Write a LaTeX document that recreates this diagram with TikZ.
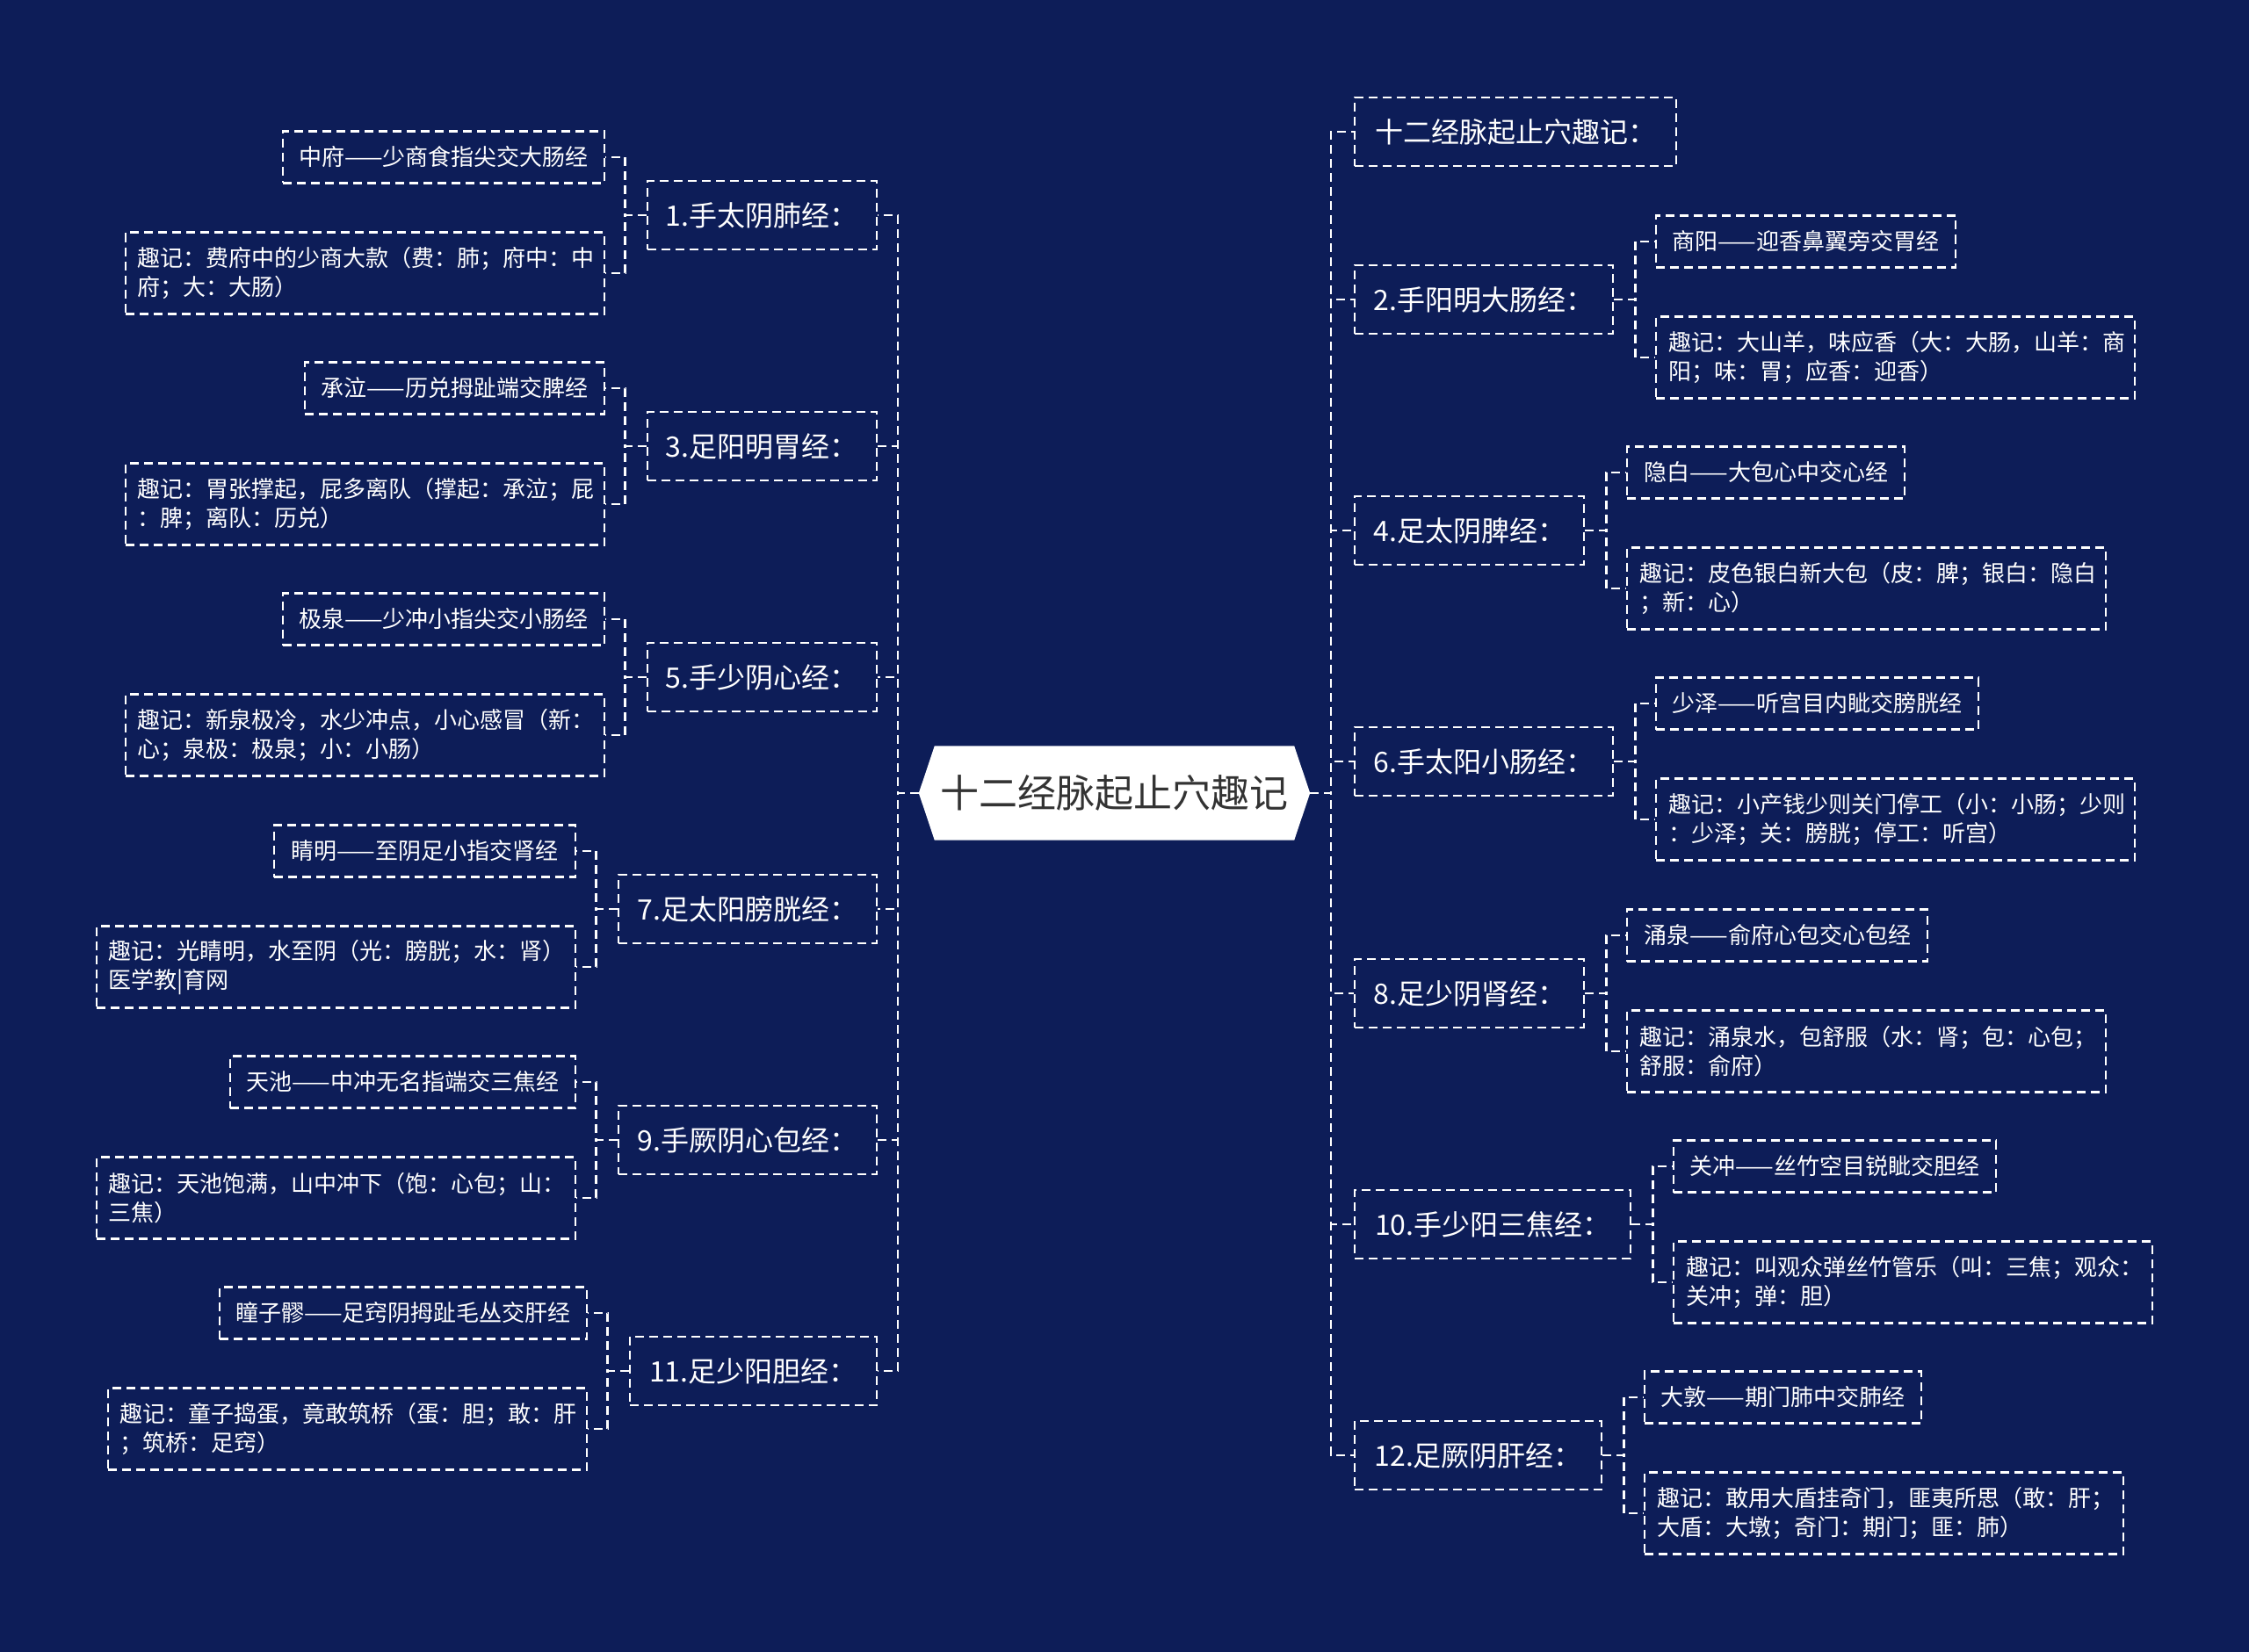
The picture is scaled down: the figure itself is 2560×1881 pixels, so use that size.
\documentclass[tikz,border=0pt]{standalone}
\usepackage{fontspec}
\setmainfont{Noto Sans CJK SC}
\usetikzlibrary{backgrounds}
\definecolor{bg}{RGB}{13,29,88}
\definecolor{ctxt}{RGB}{51,51,51}
\tikzset{
  dsh/.style={draw=white, line width=2.4pt, dash pattern=on 10pt off 6pt},
  conn/.style={dsh},
  br/.style={dsh, text=white, font=\fontsize{32}{38}\selectfont, minimum height=78pt, inner sep=0pt},
  lf/.style={dsh, text=white, font=\fontsize{26}{33}\selectfont, minimum height=59pt, inner sep=0pt},
  lf2/.style={lf, text width=517pt, align=left, inner xsep=14pt, minimum height=93pt},
  ctr/.style={text=ctxt, font=\fontsize{44}{50}\selectfont, minimum width=445pt, minimum height=107pt, inner sep=0pt}
}
\begin{document}
\begin{tikzpicture}[x=1pt,y=-1pt]
\useasboundingbox (0,0) rectangle (2560,1881);

% center
\node[ctr] (c) at (1268.5,903) {十二经脉起止穴趣记};
\begin{scope}[on background layer]
\fill[bg] (0,0) rectangle (2560,1881);
\fill[white] (c.west) -- ([xshift=18pt]c.north west) -- ([xshift=-18pt]c.north east) -- (c.east) -- ([xshift=-18pt]c.south east) -- ([xshift=18pt]c.south west) -- cycle;
\end{scope}
\coordinate (lt) at (1022,903);
\coordinate (rt) at (1515,903);

% left branches
\node[br, minimum width=261pt, anchor=east] (b1) at (999,245) {1.手太阴肺经：};
\node[br, minimum width=261pt, anchor=east] (b3) at (999,508) {3.足阳明胃经：};
\node[br, minimum width=261pt, anchor=east] (b5) at (999,771) {5.手少阴心经：};
\node[br, minimum width=294pt, anchor=east] (b7) at (999,1035) {7.足太阳膀胱经：};
\node[br, minimum width=294pt, anchor=east] (b9) at (999,1298) {9.手厥阴心包经：};
\node[br, minimum width=281pt, anchor=east] (b11) at (999,1561) {11.足少阳胆经：};

% right branches
\node[br, minimum width=366pt, anchor=west] (t) at (1541,150) {十二经脉起止穴趣记：};
\node[br, minimum width=294pt, anchor=west] (b2) at (1541,341) {2.手阳明大肠经：};
\node[br, minimum width=261pt, anchor=west] (b4) at (1541,604) {4.足太阴脾经：};
\node[br, minimum width=294pt, anchor=west] (b6) at (1541,867) {6.手太阳小肠经：};
\node[br, minimum width=261pt, anchor=west] (b8) at (1541,1131) {8.足少阴肾经：};
\node[br, minimum width=314pt, anchor=west] (b10) at (1541,1394) {10.手少阳三焦经：};
\node[br, minimum width=281pt, anchor=west] (b12) at (1541,1657) {12.足厥阴肝经：};

% left leaves
\node[lf, minimum width=366pt, anchor=east] (b1a) at (689,179) {中府——少商食指尖交大肠经};
\node[lf2, anchor=east] (b1b) at (689,311) {趣记：费府中的少商大款（费：肺；府中：中\\府；大：大肠）};
\node[lf, minimum width=341pt, anchor=east] (b3a) at (689,442) {承泣——历兑拇趾端交脾经};
\node[lf2, anchor=east] (b3b) at (689,574) {趣记：胃张撑起，屁多离队（撑起：承泣；屁\\：脾；离队：历兑）};
\node[lf, minimum width=366pt, anchor=east] (b5a) at (689,705) {极泉——少冲小指尖交小肠经};
\node[lf2, anchor=east] (b5b) at (689,837) {趣记：新泉极冷，水少冲点，小心感冒（新：\\心；泉极：极泉；小：小肠）};
\node[lf, minimum width=343pt, anchor=east] (b7a) at (656,969) {睛明——至阴足小指交肾经};
\node[lf2, anchor=east] (b7b) at (656,1101) {趣记：光睛明，水至阴（光：膀胱；水：肾）\\医学教|育网};
\node[lf, minimum width=393pt, anchor=east] (b9a) at (656,1232) {天池——中冲无名指端交三焦经};
\node[lf2, anchor=east] (b9b) at (656,1364) {趣记：天池饱满，山中冲下（饱：心包；山：\\三焦）};
\node[lf, minimum width=418pt, anchor=east] (b11a) at (669,1495) {瞳子髎——足窍阴拇趾毛丛交肝经};
\node[lf2, anchor=east] (b11b) at (669,1627) {趣记：童子捣蛋，竟敢筑桥（蛋：胆；敢：肝\\；筑桥：足窍）};

% right leaves
\node[lf, minimum width=341pt, anchor=west] (b2a) at (1884,275) {商阳——迎香鼻翼旁交胃经};
\node[lf2, anchor=west] (b2b) at (1884,407) {趣记：大山羊，味应香（大：大肠，山羊：商\\阳；味：胃；应香：迎香）};
\node[lf, minimum width=316pt, anchor=west] (b4a) at (1851,538) {隐白——大包心中交心经};
\node[lf2, anchor=west] (b4b) at (1851,670) {趣记：皮色银白新大包（皮：脾；银白：隐白\\；新：心）};
\node[lf, minimum width=367pt, anchor=west] (b6a) at (1884,801) {少泽——听宫目内眦交膀胱经};
\node[lf2, anchor=west] (b6b) at (1884,933) {趣记：小产钱少则关门停工（小：小肠；少则\\：少泽；关：膀胱；停工：听宫）};
\node[lf, minimum width=342pt, anchor=west] (b8a) at (1851,1065) {涌泉——俞府心包交心包经};
\node[lf2, anchor=west] (b8b) at (1851,1197) {趣记：涌泉水，包舒服（水：肾；包：心包；\\舒服：俞府）};
\node[lf, minimum width=367pt, anchor=west] (b10a) at (1904,1328) {关冲——丝竹空目锐眦交胆经};
\node[lf2, anchor=west] (b10b) at (1904,1460) {趣记：叫观众弹丝竹管乐（叫：三焦；观众：\\关冲；弹：胆）};
\node[lf, minimum width=315pt, anchor=west] (b12a) at (1871,1591) {大敦——期门肺中交肺经};
\node[lf2, anchor=west] (b12b) at (1871,1723) {趣记：敢用大盾挂奇门，匪夷所思（敢：肝；\\大盾：大墩；奇门：期门；匪：肺）};

% connectors center -> branches
\foreach \b in {b1,b3,b5,b7,b9,b11}{
  \draw[conn] (c.west) -- (lt) |- (\b.east);
}
\foreach \b in {t,b2,b4,b6,b8,b10,b12}{
  \draw[conn] (c.east) -- (rt) |- (\b.west);
}
% branches -> leaves
\foreach \b in {b1,b3,b5,b7,b9,b11}{
  \draw[conn] (\b.west) -- ++(-24,0) |- (\b a.east);
  \draw[conn] (\b.west) -- ++(-24,0) |- (\b b.east);
}
\foreach \b in {b2,b4,b6,b8,b10,b12}{
  \draw[conn] (\b.east) -- ++(24,0) |- (\b a.west);
  \draw[conn] (\b.east) -- ++(24,0) |- (\b b.west);
}
\end{tikzpicture}
\end{document}
